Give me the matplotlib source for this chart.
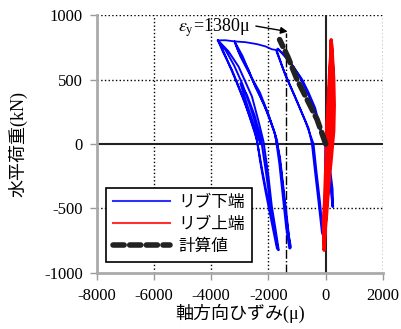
import matplotlib
matplotlib.use("Agg")
import matplotlib.pyplot as plt

# fonts: serif for numbers, CJK fallback for Japanese
plt.rcParams["font.family"] = ["Liberation Serif", "Noto Sans CJK JP"]
plt.rcParams["mathtext.fontset"] = "stix"
plt.rcParams["axes.unicode_minus"] = False

# x ticks / y ticks
x_ticks = [-8000, -6000, -4000, -2000, 0, 2000]
y_ticks = [-1000, -500, 0, 500, 1000]

# rib lower end (blue) - outer loops (group A), strain in micro, load in kN
lowA_strain = [-3763, -3600, -3274, -3050, -2810, -2600, -2401, -2300, -2200, -2100, -1996, -1850, -1703,
               -1640, -1760, -1880, -2000, -2171, -2350, -2576, -2800, -3042, -3400, -3763,
               -3650, -3420, -3150, -2900, -2680, -2460, -2330, -2220, -2080, -1930, -1780, -1660,
               -1700, -1830, -1960, -2100, -2260, -2480, -2750, -2980, -2780, -2560, -2380, -2270,
               -2400, -2650, -2900, -3200, -3500, -3763]
lowA_load = [804, 720, 574, 450, 317, 170, 31, -120, -250, -370, -488, -650, -812,
             -825, -650, -488, -250, 18, 180, 368, 480, 600, 720, 804,
             760, 640, 500, 360, 230, 90, -60, -200, -360, -520, -680, -820,
             -790, -600, -420, -200, 40, 220, 380, 470, 330, 180, 60, 0,
             120, 300, 460, 610, 730, 804]

# group B loops
lowB_strain = [-3183, -3050, -2694, -2450, -2171, -1900, -1700, -1560, -1420, -1300, -1215,
               -1270, -1380, -1500, -1620, -1760, -2000, -2300, -2600, -2900, -3183,
               -2980, -2650, -2350, -2050, -1800, -1600, -1470, -1330, -1240]
lowB_load = [796, 720, 574, 440, 317, 160, 30, -200, -490, -700, -800,
             -810, -650, -400, -150, 70, 230, 400, 520, 680, 796,
             680, 540, 400, 250, 100, -100, -350, -620, -810]

# envelope along the top
lowEnv_strain = [-3763, -3500, -3183, -2800, -2400, -2100, -1880, -1700]
lowEnv_load = [804, 805, 796, 790, 775, 757, 735, 728]

# group C loops near the computed line
lowC_strain = [0, -133, -366, -600, -830, -1180, -1500, -1650,
               -1700, -1560, -1413, -1200, -950, -600, -480, -380, -250, -130, -80,
               -30, 0, -160, -420, -900, -1250, -1680,
               -1720, -1450, -1000, -700, -425, -330, -200, -100, -30, 0, 0]
lowC_load = [0, 70, 278, 400, 503, 615, 700, 735,
             718, 630, 537, 430, 303, 122, 0, -200, -450, -690, -720,
             -400, 0, 90, 290, 520, 640, 740,
             720, 560, 330, 170, 0, -200, -450, -690, -720, -400, 0]

# small tail to the right of origin
lowD_strain = [0, 40, 157, 250, 230, 120, 0]
lowD_load = [0, -86, -293, -488, -350, -150, 0]

# rib upper end (red)
up_strain = [0, 50, 100, 150, 180, 190, 230, 280, 300, 280, 240, 180, 100, 20, -40, -55,
             -30, 30, 80, 130, 180, 230, 260, 240, 200, 150, 100, 60, 30, 0, -40, -80, -60,
             -20, 20, 60, 100, 150, 200, 220, 170, 120, 70, 20]
up_load = [0, 150, 300, 500, 700, 809, 700, 500, 300, 100, 0, -150, -300, -500, -700, -825,
           -700, -550, -400, -200, 0, 200, 400, 600, 780, 600, 400, 200, 0, -200, -450, -600, -780,
           -600, -400, -200, 0, 250, 500, 700, 500, 300, 100, 0]

# computed values (black dashed)
calc_strain = [0, -300, -650, -1000, -1330, -1610]
calc_load = [0, 190, 345, 500, 680, 810]

# yield strain
eps_y = -1380

fig = plt.figure(figsize=(4.01, 3.29), dpi=100)
ax = fig.add_axes([0.241, 0.171, 0.714, 0.783])

ax.set_xlim(-8000, 2000)
ax.set_ylim(-1000, 1000)
ax.set_xticks(x_ticks)
ax.set_yticks(y_ticks)
ax.tick_params(labelsize=12, length=5, width=1, color="#999999", direction="out")
ax.tick_params(axis="x", pad=6)
ax.tick_params(axis="y", pad=5)

# dotted grid, including the top/right edge lines
for xv in x_ticks:
    if xv not in (-8000, 0):
        ax.axvline(xv, color="black", linestyle=":", linewidth=1, zorder=1)
for yv in y_ticks:
    if yv not in (-1000, 0):
        ax.axhline(yv, color="black", linestyle=":", linewidth=1, zorder=1)
ax.axhline(0, color="#222222", linewidth=1.5, zorder=1)
ax.axvline(0, color="#222222", linewidth=1.5, zorder=1)

for side in ("top", "right"):
    ax.spines[side].set_visible(False)
for side in ("left", "bottom"):
    ax.spines[side].set_color("#aaaaaa")
    ax.spines[side].set_linewidth(2)

# yield strain line
ax.plot([eps_y, eps_y], [-1000, 865], color="black", linestyle="-.", linewidth=1, zorder=2)

blue = "#0000ff"
ax.plot(lowA_strain, lowA_load, color=blue, linewidth=1.4, zorder=3)
ax.plot(lowB_strain, lowB_load, color=blue, linewidth=1.4, zorder=3)
ax.plot(lowEnv_strain, lowEnv_load, color=blue, linewidth=1.3, zorder=3)
ax.plot(lowC_strain, lowC_load, color=blue, linewidth=1.4, zorder=3)
ax.plot(lowD_strain, lowD_load, color=blue, linewidth=1.8, zorder=3)
ax.plot(up_strain, up_load, color="#ff0000", linewidth=2.4, zorder=4)
ax.plot(calc_strain, calc_load, color="#222222", linewidth=4, dashes=(2.2, 1.0),
        dash_capstyle="round", zorder=5)

# legend
h1, = ax.plot([], [], color="#3030ff", linewidth=1.5, label="リブ下端")
h2, = ax.plot([], [], color="#ff3030", linewidth=1.5, label="リブ上端")
h3, = ax.plot([], [], color="#222222", linewidth=4, dashes=(2.0, 1.0),
              dash_capstyle="round", label="計算値")
leg = ax.legend(handles=[h1, h2, h3], loc="lower left", bbox_to_anchor=(0.032, 0.04),
                borderaxespad=0, fontsize=12, fancybox=False, framealpha=1,
                edgecolor="black", handlelength=3.4, borderpad=0.45,
                labelspacing=0.35, handletextpad=0.5)
leg.get_frame().set_linewidth(1.2)

# yield strain annotation
ax.annotate(r"$\varepsilon_{\rm y}$=1380μ", xy=(-1330, 872), xytext=(-5150, 905),
            fontsize=13, va="center", ha="left",
            arrowprops=dict(arrowstyle="-|>", color="black", linewidth=1,
                            shrinkA=4, shrinkB=0, mutation_scale=10,
                            patchA=None, relpos=(1.0, 0.6)))

ax.set_xlabel("軸方向ひずみ(μ)", fontsize=13)
ax.set_ylabel("水平荷重(kN)", fontsize=13)
ax.xaxis.set_label_coords(0.5, -0.12)
ax.yaxis.set_label_coords(-0.243, 0.5)

fig.savefig("out.png", dpi=100)
